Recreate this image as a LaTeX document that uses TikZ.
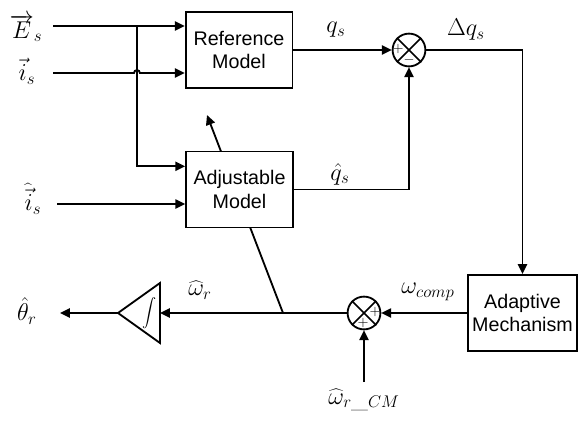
\documentclass[tikz,border=0pt]{standalone}
\usepackage{fontspec}
\newfontfamily\boxfont{Liberation Sans}
\usetikzlibrary{arrows.meta}

\begin{document}
\begin{tikzpicture}
[
x=0.025cm, y=-0.025cm,
line width=1.3pt,
>={Triangle[length=7pt,width=6.5pt]},
blk/.style={rectangle, draw=black, fill=white, line width=1.3pt, minimum width=2.67cm, minimum height=1.9cm, align=center, inner sep=0pt, font=\boxfont\fontsize{14}{17}\selectfont},
sumnode/.style={circle, draw=black, fill=white, line width=1.3pt, minimum size=0.82cm, inner sep=0pt},
lbl/.style={font=\fontsize{17.28}{19}\selectfont, inner sep=1pt},
sgn/.style={font=\fontsize{10}{10}\selectfont, inner sep=0pt},
]
%
\useasboundingbox (0,0) rectangle (579,422);

% free ends
\coordinate (Ein)  at ( 53, 26);
\coordinate (iin)  at ( 53, 73);
\coordinate (ihin) at ( 57,204);
\coordinate (tapE) at (137, 26);
\coordinate (tap)  at (283,313);
\coordinate (tip)  at (207,115);
\coordinate (cm)   at (364,382);
\coordinate (intR) at (160,313);
\coordinate (intL) at (118,313);
\coordinate (thOut) at ( 60,313);

% adaptation line (behind the box)
\draw [->] (tap) -- (tip);

\node [blk]  (ref)   at (239, 50)   {Reference\\Model};
\node [blk]  (adj)   at (239.5,189.5) {Adjustable\\Model};
\node [blk, minimum width=2.72cm]  (adapt) at (522.5,313) {Adaptive\\Mechanism};

\node [sumnode]  (S1)  at (409, 50) {};
\draw [line width=1.2pt] (S1.north west) -- (S1.south east) (S1.north east) -- (S1.south west);
\node [sgn] at (398, 49) {$+$};
\node [sgn] at (409, 60) {$-$};
%
\node [sumnode]  (S2)  at (364,313) {};
\draw [line width=1.2pt] (S2.north west) -- (S2.south east) (S2.north east) -- (S2.south west);
\node [sgn] at (375,312) {$+$};
\node [sgn] at (363,323) {$+$};

% integrator
\draw [line join=miter] (intR) ++(0,-30) -- ++(0,60) -- (intL) -- cycle;
\node [font=\fontsize{12}{12}\selectfont, inner sep=0pt] (intg) at (150,313) {$\displaystyle\int$};

% inputs
\draw [->] (Ein) -- (Ein -| ref.west);
\draw [->] (iin) -- ++(81,0) arc[start angle=180, end angle=0, radius=2.1pt] -- (iin -| ref.west);
\draw [->] (tapE) |- ([yshift=16.5pt]adj.west);
\draw [->] (ihin) -- (ihin -| adj.west);
%
\draw [->] (ref.east) -- (S1.west);
\draw [->] (adj.east) -| (S1.south);
\draw [->] (S1.east) -| (adapt.north);
\draw [->] (adapt.west) -- (S2.east);
\draw [->] (cm) -- (S2.south);
\draw [->] (S2.west) -- (intR);
\draw [->] (intL) -- (thOut);

% labels
\node [lbl] (lE)  at ( 26, 28) {$\overrightarrow{E}_s$};
\node [lbl] (li)  at ( 27, 71) {$\vec{i}_s$};
\node [lbl] (lih) at ( 33,199) {$\widehat{\vec{i}}_s$};
\node [lbl] (lq)  at (336, 30) {$q_s$};
\node [lbl] (ldq) at (466, 30) {$\Delta q_s$};
\node [lbl] (lqh) at (340,174) {$\hat{q}_s$};
\node [lbl] (lwc) at (428,292) {$\omega_{comp}$};
\node [lbl] (lwr) at (200,290) {$\widehat{\omega}_r$};
\node [lbl] (lcm) at (364,400) {$\widehat{\omega}_{r\_CM}$};
\node [lbl] (lth) at ( 27,311) {$\hat{\theta}_r$};
%
\end{tikzpicture}
\end{document}
